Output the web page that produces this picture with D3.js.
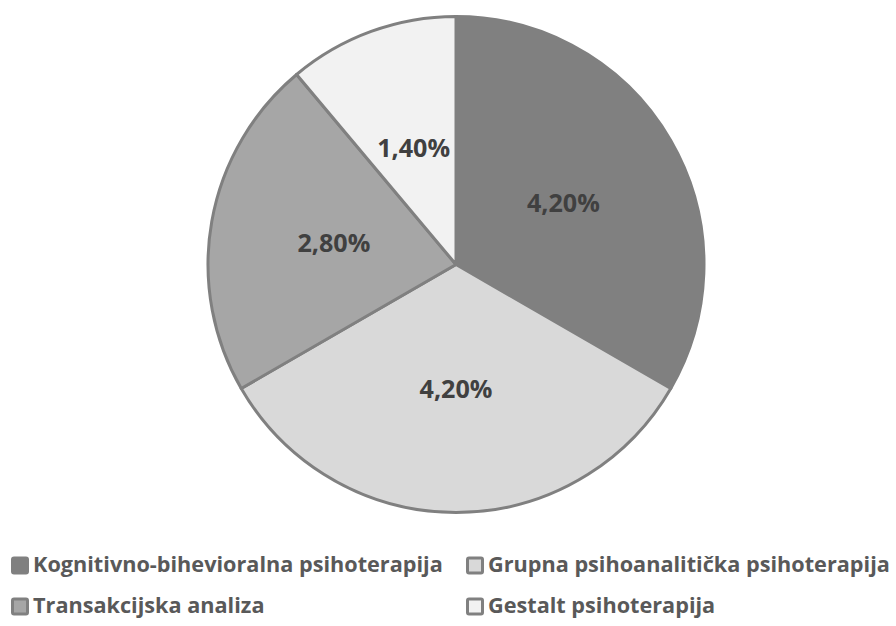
<!DOCTYPE html>
<html><head><meta charset="utf-8">
<script src="https://cdn.jsdelivr.net/npm/d3@7"></script>
<style>body{margin:0;background:#fff}</style>
</head><body>
<svg id="c" width="896" height="626"></svg>
<script>
const categories = ["Kognitivno-bihevioralna psihoterapija","Grupna psihoanalitička psihoterapija","Transakcijska analiza","Gestalt psihoterapija"];
const values = [4.2, 4.2, 2.8, 1.4];
const labels = ["4,20%","4,20%","2,80%","1,40%"];
const colors = ["#808080","#d9d9d9","#a6a6a6","#f2f2f2"];

const FONT = "'Open Sans', 'DejaVu Sans', sans-serif";
const svg = d3.select("#c");
const cx = 456, cy = 264.5, R = 248;
const pie = d3.pie().sort(null).value(d => d)(values);
const arc = d3.arc().innerRadius(0).outerRadius(R);
const labelArc = d3.arc().innerRadius(R*0.5).outerRadius(R*0.5);
const g = svg.append("g").attr("transform", `translate(${cx},${cy})`);
g.selectAll("path").data(pie).join("path")
  .attr("d", arc).attr("fill", (d,i) => colors[i])
  .attr("stroke", "#808080").attr("stroke-width", 3).attr("stroke-linejoin","round");

function measure(txt) {
  const p = svg.append("text").attr("font-family", FONT).attr("font-weight","bold")
    .attr("font-size", 20).text(txt);
  const w = p.node().getComputedTextLength();
  p.remove();
  return w;
}
const lblSize = 20 * 73 / measure("4,20%");

g.selectAll("text").data(pie).join("text")
  .attr("x", d => labelArc.centroid(d)[0])
  .attr("y", d => labelArc.centroid(d)[1] + 9.5)
  .attr("text-anchor","middle")
  .attr("font-family", FONT).attr("font-weight","bold")
  .attr("font-size", lblSize).attr("fill","#404040")
  .text((d,i) => labels[i]);

// legend
const legSize = Math.min(20 * 416 / measure(categories[0]), 20 * 402 / measure(categories[1]));

const legX = [11, 466], legBase = [572, 613];
const lg = svg.append("g");
categories.forEach((c,i) => {
  const x = legX[i%2], yb = legBase[Math.floor(i/2)];
  lg.append("rect").attr("x", x+1.5).attr("y", yb-14).attr("width", 15).attr("height", 15)
    .attr("rx", 1.5)
    .attr("fill", colors[i]).attr("stroke", "#808080").attr("stroke-width", 3);
  lg.append("text").attr("x", x+22).attr("y", yb)
    .attr("font-family", FONT).attr("font-weight","bold")
    .attr("font-size", legSize).attr("fill","#595959").text(c);
});
</script>
</body></html>
